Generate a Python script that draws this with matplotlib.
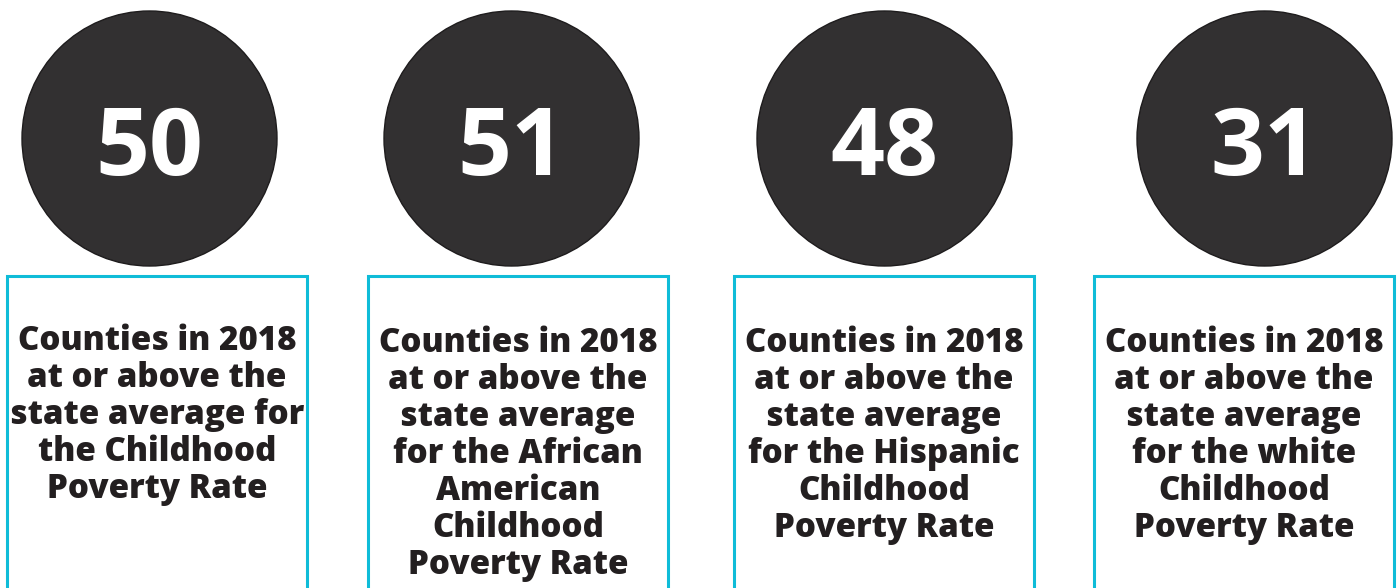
import matplotlib
matplotlib.use("Agg")
import matplotlib.pyplot as plt
from matplotlib.patches import Circle, Rectangle

# ---- data ----
values = [50, 51, 48, 31]
labels = [
    ["Counties in 2018", "at or above the", "state average for", "the Childhood", "Poverty Rate"],
    ["Counties in 2018", "at or above the", "state average", "for the African", "American", "Childhood", "Poverty Rate"],
    ["Counties in 2018", "at or above the", "state average", "for the Hispanic", "Childhood", "Poverty Rate"],
    ["Counties in 2018", "at or above the", "state average", "for the white", "Childhood", "Poverty Rate"],
]

# ---- layout / style ----
W, H = 1398, 588
circle_cx = [149.5, 511.5, 884.5, 1264.5]
circle_cy = 138.5
circle_r = 127.5
box_left = [7, 368, 734, 1094]
box_w = 300
box_top = 276
circle_col = "#323031"
text_col = "#231f20"
cyan = "#0fbcd8"
FONT = "Open Sans"
BODY_WEIGHT = 800

fig = plt.figure(figsize=(W / 100, H / 100), dpi=100)
ax = fig.add_axes([0, 0, 1, 1])
ax.set_xlim(0, W)
ax.set_ylim(H, 0)
ax.set_axis_off()

renderer = fig.canvas.get_renderer()

def fit_size(s, target_w, base=30):
    t = ax.text(0, 0, s, fontsize=base, fontweight=BODY_WEIGHT, family=FONT)
    w = t.get_window_extent(renderer=renderer).width
    t.remove()
    return base * target_w / w

body_fs = fit_size("Counties in 2018", 279)
num_fs = 68.0

for i, v in enumerate(values):
    ax.add_patch(Circle((circle_cx[i], circle_cy), circle_r, facecolor=circle_col,
                        edgecolor="#1e1c1d", linewidth=1.0, zorder=2))
    ax.text(circle_cx[i], circle_cy + 1, str(v), color="white", fontsize=num_fs,
            fontweight="bold", family=FONT, ha="center", va="center_baseline", zorder=3)
    ax.add_patch(Rectangle((box_left[i], box_top), box_w, H + 20 - box_top,
                           facecolor="white", edgecolor=cyan, linewidth=2.2, zorder=1))
    cx = box_left[i] + box_w / 2
    base_y = 350 if i == 0 else 352
    for j, line in enumerate(labels[i]):
        ax.text(cx, base_y + j * 37, line, color=text_col, fontsize=body_fs,
                fontweight=BODY_WEIGHT, family=FONT, ha="center", va="baseline", zorder=3)

fig.savefig("out.png", dpi=100)
